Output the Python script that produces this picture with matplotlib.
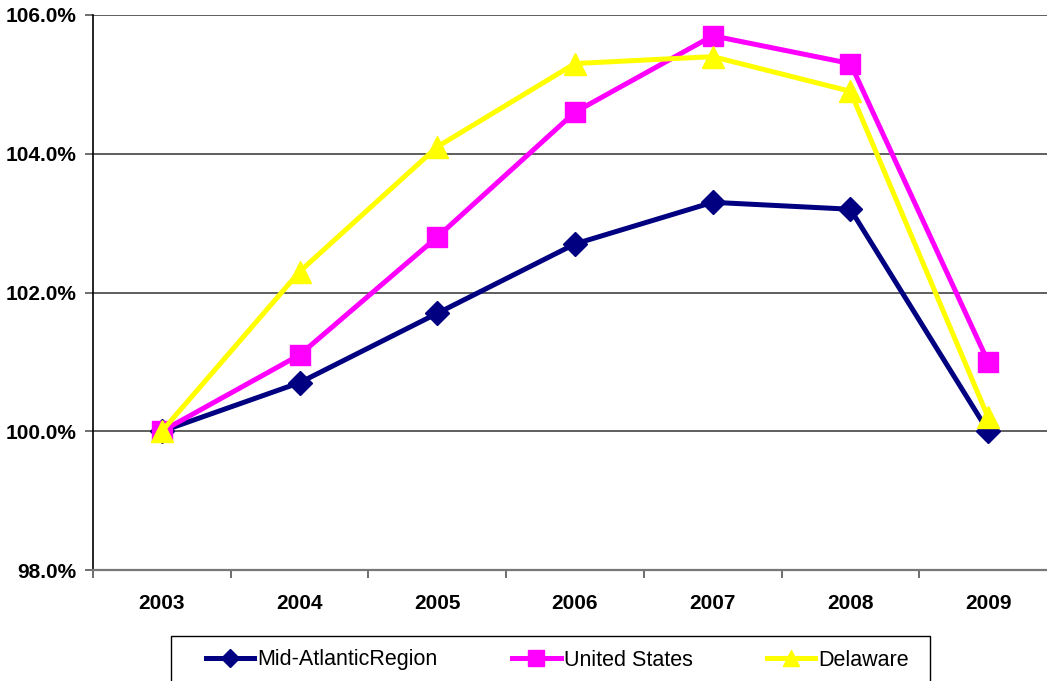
import matplotlib
matplotlib.use("Agg")
import matplotlib.pyplot as plt
from matplotlib.patches import Rectangle
from matplotlib.ticker import FuncFormatter, FixedLocator

plt.rcParams['font.family'] = ['Liberation Sans', 'DejaVu Sans']

years = ["2003", "2004", "2005", "2006", "2007", "2008", "2009"]
mid_atlantic = [100.0, 100.7, 101.7, 102.7, 103.3, 103.2, 100.0]
united_states = [100.0, 101.1, 102.8, 104.6, 105.7, 105.3, 101.0]
delaware = [100.0, 102.3, 104.1, 105.3, 105.4, 104.9, 100.2]

W, H = 1047, 681
fig = plt.figure(figsize=(W / 100, H / 100), dpi=100)
left, right, top, bottom = 93, 1057, 15, 570
ax = fig.add_axes([left / W, (H - bottom) / H, (right - left) / W, (bottom - top) / H])

x = list(range(len(years)))
lw = 3.6
ax.plot(x, mid_atlantic, color="#000080", lw=lw, marker="D", markersize=12,
        label="Mid-AtlanticRegion", zorder=3)
ax.plot(x, united_states, color="#FF00FF", lw=lw, marker="s", markersize=15,
        label="United States", zorder=4)
ax.plot(x, delaware, color="#FFFF00", lw=lw, marker="^", markersize=16,
        label="Delaware", zorder=5)

ax.set_xlim(-0.5, len(years) - 0.5)
ax.set_ylim(98, 106)
ax.set_yticks([98, 100, 102, 104, 106])
ax.yaxis.set_major_formatter(FuncFormatter(lambda v, p: f"{v:.1f}%"))
ax.grid(axis="y", color="#333333", lw=1.1)
ax.set_axisbelow(True)

# category boundaries carry the tick marks; labels sit at category centres
ax.xaxis.set_major_locator(FixedLocator([i - 0.5 for i in range(len(years) + 1)]))
ax.xaxis.set_major_formatter(FuncFormatter(lambda v, p: ""))
ax.set_xticks(x, minor=True)
ax.set_xticklabels(years, minor=True)
ax.tick_params(axis="x", which="minor", length=0, pad=17, labelsize=15)
ax.tick_params(axis="x", which="major", length=6, color="#555555", width=1.2)
ax.tick_params(axis="y", length=6, color="#555555", width=1.2, labelsize=15, pad=6)
for lab in ax.get_xticklabels(minor=True) + ax.get_yticklabels():
    lab.set_fontweight("bold")

for s in ["top", "right"]:
    ax.spines[s].set_visible(False)
ax.spines["left"].set_color("#000000")
ax.spines["left"].set_linewidth(1.2)
ax.spines["bottom"].set_color("#777777")
ax.spines["bottom"].set_linewidth(1.6)

# legend frame runs past the bottom edge of the figure
fig.patches.append(Rectangle((171 / W, -0.05), (930 - 171) / W, (H - 636) / H + 0.05,
                             transform=fig.transFigure, fill=False,
                             edgecolor="#000000", lw=1.0))
leg = fig.legend(loc="center left", ncol=3,
                 bbox_to_anchor=(206 / W, (H - 660) / H),
                 fontsize=15.5, frameon=False,
                 handlelength=2.25, handletextpad=0.15, columnspacing=3.45,
                 borderpad=0, borderaxespad=0, markerscale=0.75)

fig.savefig("out.png", dpi=100)
